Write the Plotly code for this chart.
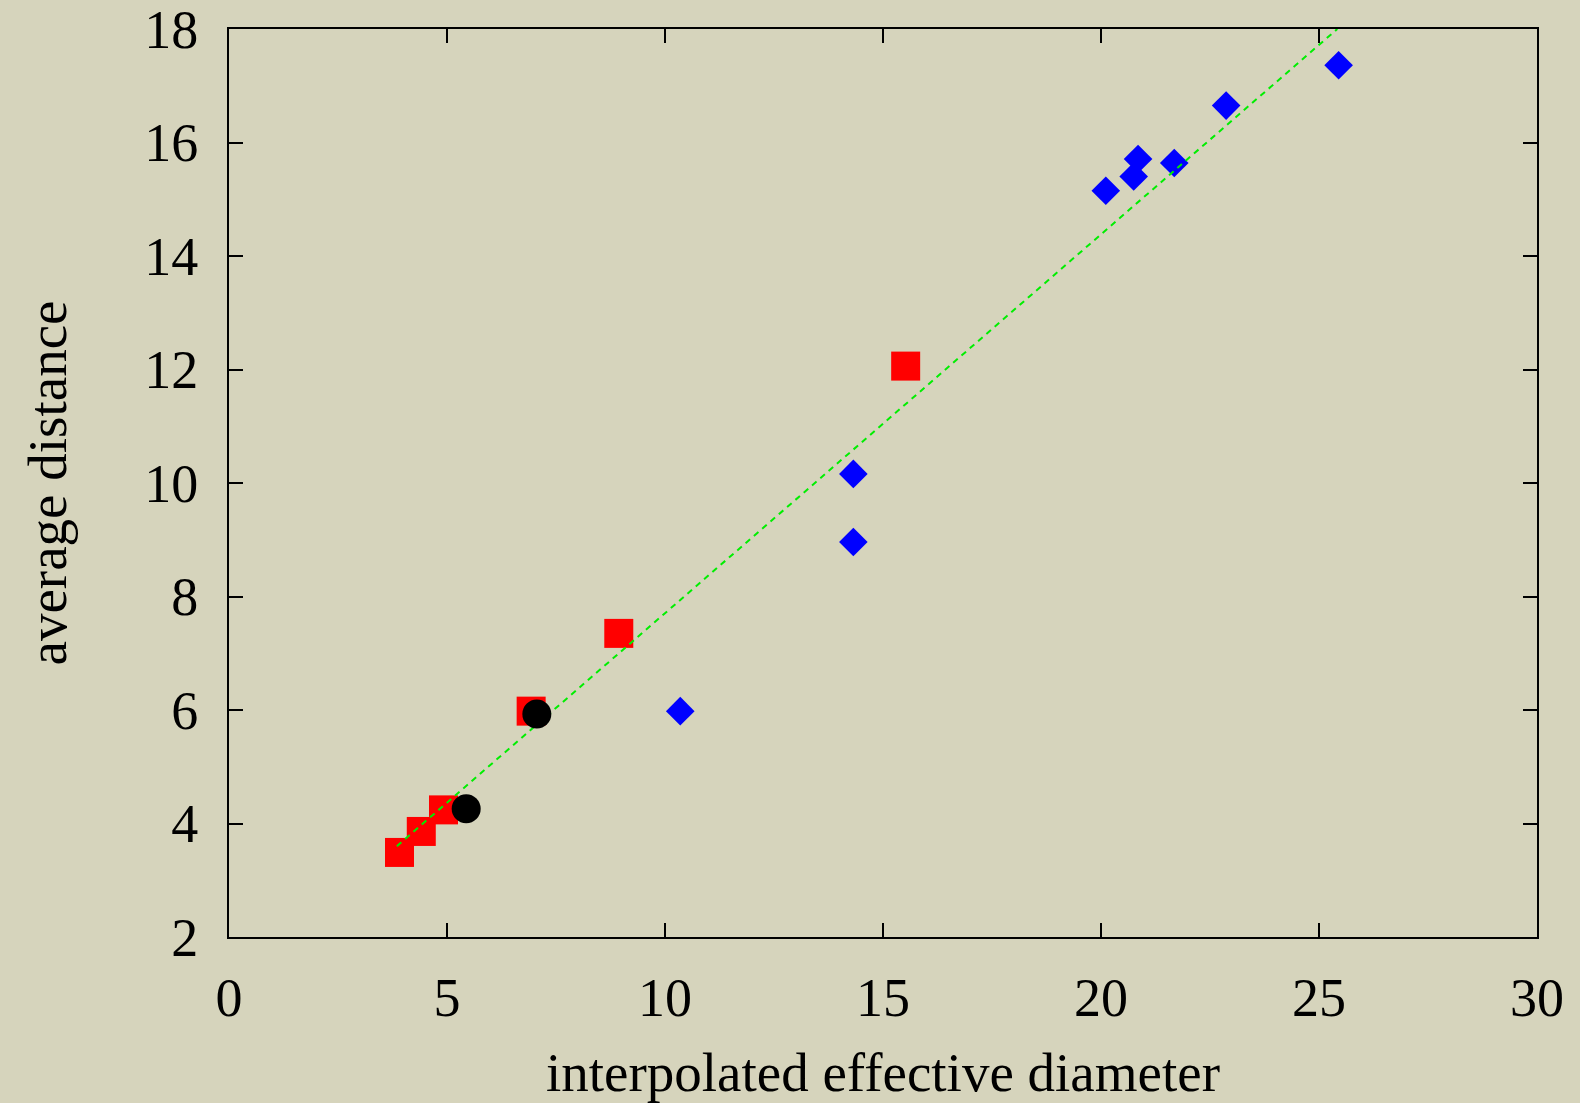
import plotly.graph_objects as go

# data
sq_x = [3.91, 4.41, 4.92, 6.93, 8.94, 15.52]
sq_y = [3.49, 3.86, 4.24, 5.98, 7.35, 12.06]

circ_x = [5.44, 7.06]
circ_y = [4.26, 5.93]

dia_x = [10.35, 14.32, 14.32, 20.11, 20.75, 20.85, 21.68, 22.87, 25.45]
dia_y = [5.98, 8.96, 10.16, 15.15, 15.40, 15.71, 15.64, 16.65, 17.36]

fit_x = [3.85, 25.42]
fit_y = [3.6, 18.0]

x_ticks = [0, 5, 10, 15, 20, 25, 30]
y_ticks = [2, 4, 6, 8, 10, 12, 14, 16, 18]

BG = "#d6d4bc"
FONT = "Liberation Serif, Times New Roman, serif"

fig = go.Figure()
fig.add_trace(go.Scatter(x=sq_x, y=sq_y, mode="markers",
                         marker=dict(symbol="square", size=29, color="#ff0000", line=dict(width=0)),
                         showlegend=False, cliponaxis=False))
fig.add_trace(go.Scatter(x=dia_x, y=dia_y, mode="markers",
                         marker=dict(symbol="diamond", size=22, color="#0000ff", line=dict(width=0)),
                         showlegend=False, cliponaxis=False))
fig.add_trace(go.Scatter(x=fit_x, y=fit_y, mode="lines",
                         line=dict(color="#00ee00", width=2, dash="6px,5px"),
                         showlegend=False))
fig.add_trace(go.Scatter(x=circ_x, y=circ_y, mode="markers",
                         marker=dict(symbol="circle", size=29, color="#000000", line=dict(width=0)),
                         showlegend=False, cliponaxis=False))

axis_common = dict(
    showgrid=False, zeroline=False, automargin=False,
    showline=True, linecolor="black", linewidth=2, mirror="ticks",
    ticks="inside", ticklen=14, tickwidth=2, tickcolor="black",
    ticklabeloverflow="allow",
    tickfont=dict(family=FONT, size=54, color="black"),
)

fig.update_layout(
    width=1580, height=1103,
    margin=dict(l=229, r=43, t=29, b=166),
    paper_bgcolor=BG, plot_bgcolor=BG,
    font=dict(family=FONT, color="black"),
    xaxis=dict(range=[0, 30], tickvals=x_ticks, ticktext=[str(v) for v in x_ticks],
               ticklabelstandoff=12,
               title=dict(text="interpolated effective diameter", font=dict(family=FONT, size=55), standoff=26),
               **axis_common),
    yaxis=dict(range=[2, 18], tickvals=y_ticks, ticktext=[str(v) for v in y_ticks],
               ticklabelstandoff=18,
               title=dict(text="average distance", font=dict(family=FONT, size=55), standoff=60),
               **axis_common),
)

fig.write_html("out.html")
